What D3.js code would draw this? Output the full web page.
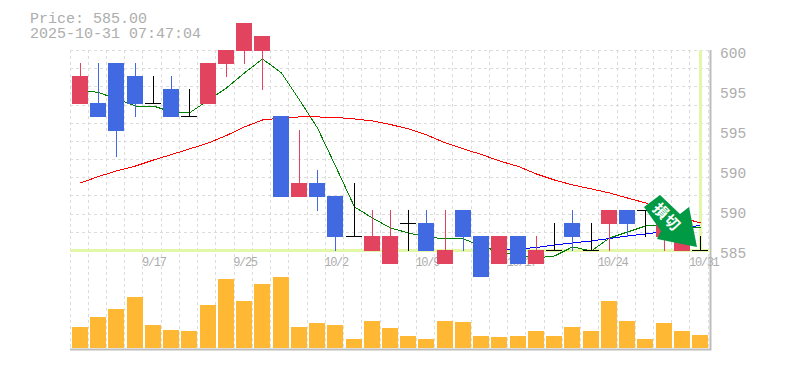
<!DOCTYPE html>
<html>
<head>
<meta charset="utf-8">
<script src="https://cdn.jsdelivr.net/npm/d3@7"></script>
<style>
  html, body { margin: 0; padding: 0; background: #fff; }
  svg { display: block; }
  text { font-family: "Liberation Mono", monospace; fill: #adadad; }
</style>
</head>
<body>
<svg id="chart" width="785" height="370"></svg>
<script>
  // one entry per session
  const dates = ['9/10','9/11','9/12','9/16','9/17','9/18','9/19','9/22','9/24','9/25',
    '9/26','9/29','9/30','10/1','10/2','10/3','10/6','10/7','10/8','10/9',
    '10/10','10/14','10/15','10/16','10/17','10/20','10/21','10/22','10/23','10/24',
    '10/27','10/28','10/29','10/30','10/31'];
  const open = [596,596,599,598,596,597,595,596,599,600,600,595,589,590,589,586,585,584,587,587,584,588,586,584,586,584,585,587,585,587,588,588,586,585,585];
  const close = [598,595,594,596,596,595,595,599,600,602,601,589,590,589,586,586,586,586,587,585,585,586,583,586,584,585,585,586,585,588,587,588,587,586,585];
  const high = [599,599,599,599,598,598,597,599,600,602,601,595,594,591,589,590,588,588,588,588,588,588,586,586,586,586,587,588,587,588,588,588,587,586,586];
  const low = [596,595,592,595,596,595,595,596,598,599,597,589,589,588,585,586,585,584,585,585,584,585,583,584,584,584,585,585,585,585,586,586,585,585,585];
  const volume = [21,31,39,51,23,18,17,43,69,47,64,71,21,25,23,9,27,20,12,9,27,26,12,11,12,17,12,21,17,47,27,9,25,17,13];

  const maShort = [597,596.81,596.33,595.8,595.8,595.35,595.28,596.25,597.15,598.28,599.33,598.28,596.25,594.15,591.3,588.23,587.4,586.65,586.28,585.98,585.83,585.83,585.3,584.85,584.63,584.4,584.55,585.23,584.93,585.9,586.35,586.8,586.88,586.8,586.65];
  const maMid = [590.03,590.51,590.93,591.3,591.75,592.16,592.58,593.03,593.59,594.23,594.75,594.9,594.98,594.98,594.94,594.83,594.68,594.41,594.08,593.63,593.03,592.58,592.16,591.68,591.26,590.7,590.25,589.88,589.58,589.28,588.9,588.53,588,587.4,587.03];
  const maLong = [null,null,null,null,null,null,null,null,null,null,null,null,null,null,null,null,null,null,null,null,null,null,null,585,585.08,585.19,585.38,585.53,585.68,585.86,586.05,586.2,586.39,586.54,586.88];

  const priceTicks = [585,588,591,594,597,600];
  const dateTicks = ['9/17','9/25','10/2','10/9','10/17','10/24','10/31'];
  const lastPrice = 585;
  const stamp = '2025-10-31 07:47:04';

  const svg = d3.select('#chart');

  const x = d3.scaleBand().domain(dates).range([70.9, 709.1]).paddingInner(0.1226).paddingOuter(0.0613);
  const y = d3.scaleLinear().domain([585, 600]).range([250, 50]);
  const yVol = d3.scaleLinear().domain([0, 71]).range([348, 277]);

  const left = d => Math.round(x(d));
  const mid = d => left(d) + 8;

  // grid
  const grid = svg.append('g').attr('stroke', '#dcdcdc').attr('stroke-dasharray', '3,3');
  dates.concat(['end']).forEach(function (d, i) {
    const gx = i < dates.length ? Math.floor(x(d) - 2) + 0.5 : 708.5;
    grid.append('line').attr('x1', gx).attr('x2', gx).attr('y1', 50).attr('y2', 350);
  });
  d3.range(12).forEach(function (i) {
    const gy = Math.round(50 + i * 200 / 11) + 0.5;
    grid.append('line').attr('x1', 70).attr('x2', 710).attr('y1', gy).attr('y2', gy);
  });

  // frame
  svg.append('path').attr('d', 'M710.5,50V349.5H70')
    .attr('fill', 'none').attr('stroke', '#bdbdbd').attr('stroke-width', 2);

  // axes
  svg.append('g').attr('transform', 'translate(712,0)')
    .call(d3.axisRight(y).tickValues(priceTicks).tickSize(0).tickPadding(8)
      .tickFormat(d => Math.round(d / 5) * 5))
    .call(g => g.select('.domain').remove())
    .call(g => g.selectAll('text').attr('dy', 7.5).style('font-size', '14.5px')
      .style('font-family', '"Liberation Mono", monospace').attr('fill', '#adadad'));

  svg.append('g').attr('transform', 'translate(0,253)')
    .call(d3.axisBottom(x).tickValues(dateTicks).tickSize(0).tickPadding(0))
    .call(g => g.select('.domain').remove())
    .call(g => g.selectAll('text').attr('text-anchor', 'start').attr('x', -11).attr('y', 0).attr('dy', 13)
      .style('font-size', '12px').style('letter-spacing', '-1.3px')
      .style('font-family', '"Liberation Mono", monospace').attr('fill', '#adadad'));

  // last price + last session guides
  svg.append('line').attr('x1', 70).attr('x2', 710).attr('y1', y(lastPrice) + 0.5).attr('y2', y(lastPrice) + 0.5)
    .attr('stroke', '#e2f7a8').attr('stroke-width', 3);
  svg.append('line').attr('x1', mid(dates[34]) + 0.5).attr('x2', mid(dates[34]) + 0.5).attr('y1', 50).attr('y2', 250)
    .attr('stroke', '#e2f7a8').attr('stroke-width', 3);

  // moving averages
  const line = d3.line().defined(d => d[1] !== null).x(d => mid(d[0]) + 0.5).y(d => y(d[1]));
  [[maShort, '#008000'], [maMid, '#ff0000'], [maLong, '#0000ff']].forEach(function (s) {
    svg.append('path').datum(dates.map((d, i) => [d, s[0][i]])).attr('d', line)
      .attr('fill', 'none').attr('stroke', s[1]).attr('stroke-width', 1).attr('shape-rendering', 'crispEdges');
  });

  // candles
  const candles = svg.selectAll('.candle').data(dates).enter().append('g').attr('class', 'candle').attr('shape-rendering', 'crispEdges');
  const colour = (d, i) => close[i] > open[i] ? '#e2435f' : close[i] < open[i] ? '#4169e1' : '#000';

  candles.append('line')
    .attr('x1', d => mid(d) + 0.5).attr('x2', d => mid(d) + 0.5)
    .attr('y1', (d, i) => Math.floor(y(high[i]))).attr('y2', (d, i) => Math.floor(y(low[i])) + 1)
    .attr('stroke', colour);
  candles.append('rect')
    .attr('x', left).attr('width', x.bandwidth())
    .attr('y', (d, i) => Math.floor(y(Math.max(open[i], close[i]))))
    .attr('height', (d, i) => Math.floor(y(Math.min(open[i], close[i]))) - Math.floor(y(Math.max(open[i], close[i]))) + 1)
    .attr('fill', colour);

  // volume
  svg.selectAll('.vol').data(dates).enter().append('rect').attr('class', 'vol')
    .attr('x', left).attr('width', x.bandwidth())
    .attr('y', (d, i) => yVol(volume[i]))
    .attr('height', (d, i) => yVol(0) - yVol(volume[i]))
    .attr('fill', '#ffb833');

  // title
  svg.append('text').attr('x', 30).attr('y', 23).style('font-size', '15px').text('Price: ' + lastPrice.toFixed(2));
  svg.append('text').attr('x', 30).attr('y', 38).style('font-size', '15px').text(stamp);

  // sell signal arrow, tip sits just above the last close
  const arrow = svg.append('g').attr('transform', 'translate(' + (mid(dates[34]) - 3) + ',' + (y(lastPrice) - 3) + ')');
  arrow.append('polygon').attr('fill', '#009944')
    .attr('points', [[-37,-52],[-53,-40],[-36,-16],[-40,-8],[0,0],[-8,-40],[-17,-33]].join(' '));
  arrow.append('text').attr('transform', 'translate(-30,-30) rotate(45)')
    .attr('text-anchor', 'middle').attr('dy', 5.5)
    .style('font-family', '"Noto Sans CJK JP"').style('font-size', '15px').style('font-weight', 700).style('letter-spacing', '1px').style('fill', '#fff')
    .text('損切');
</script>
</body>
</html>
